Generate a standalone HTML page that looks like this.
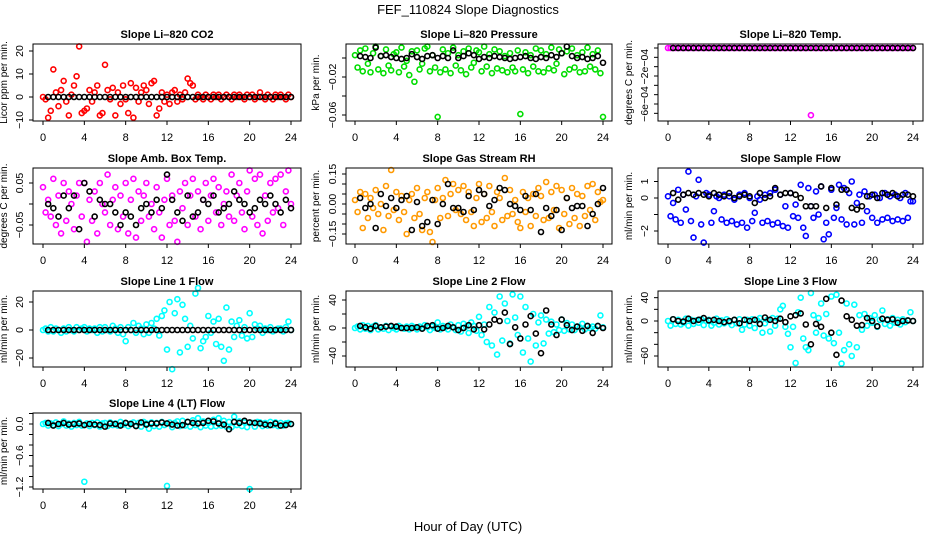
<!DOCTYPE html>
<html><head><meta charset="utf-8"><style>
html,body{margin:0;padding:0;background:#fff}
svg{display:block;font-family:"Liberation Sans",sans-serif}
</style></head><body>
<svg id="chart" width="936" height="540" viewBox="0 0 936 540">
<text x="468" y="14" text-anchor="middle" font-size="13">FEF_110824  Slope Diagnostics</text>
<text x="468" y="531" text-anchor="middle" font-size="13">Hour of Day (UTC)</text>
</svg>
<script>
// ---- data (colored series: every 0.25 h from 0..24; black series: every 0.5 h from 0.5..24) ----
const xTicks = [0,4,8,12,16,20,24];
const co2Red = [0,-1,-9,-6, 12,2,-4,3, 7,-2,-8,1, 5,9,22,-7, -6,-5,3,-2, 2,5,-8,-7, 14,3,-1,4, -8,2,-3,5, -1,-7,6,-9, 4,-2,2,5, 3,-3,6,7, -8,-5,2,-2, 1,-3,2,3, -2,1,-1,2, 8,6,5,-1, 1,0,-1,1, 0,-1,1,0, 1,-1,0,1, 0,-1,1,0, 1,0,-1,1, 0,1,-1,0, 2,0,-1,1, 0,-1,1,0, 1,0,-1,1, 0];
const co2Black = [0,0,0,0,0,0,0,0,0,0,0,0,0,0,0,0,0,0,0,0,0,0,0,0,0,0,0,0,0,0,0,0,0,0,0,0,0,0,0,0,0,0,0,0,0,0,0,0];
const pressGreenMilli = [3,-10,8,-14, 10,-6,-15,5, 12,-12,2,-16, 9,-8,-13,4, 6,-15,11,-9, -3,-18,7,-25, 8,-12,-6,10, 12,-14,3,-10, -62,-15,9,-12, 5,-16,11,-8, 3,-13,7,-17, 10,-10,-5,8, 6,-14,12,-9, 4,-16,9,-11, 7,-13,2,-15, 5,-10,-14,8, -59,-12,6,-16, 3,-9,10,-14, 8,-15,4,-11, 11,-13,-6,9, 5,-17,7,-12, 10,-10,3,-15, 6,-14,11,-9, 4,-12,8,-16, -62];
const pressBlackMilli = [2,1,0,11,2,3,1,0,-1,0,4,1,-1,2,3,0,2,0,8,0,2,5,3,-1,1,0,2,1,0,-1,0,1,2,0,-1,1,0,3,1,5,12,2,0,1,-1,0,2,-5];
const tempMagenta = [0,0,0,0,0,0,0,0,0,0,0,0,0,0,0,0,0,0,0,0,0,0,0,0,0,0,0,0,0,0,0,0,0,0,0,0,0,0,0,0,0,0,0,0,0,0,0,0,0,0,0,0,0,0,0,0,-7.2,0,0,0,0,0,0,0,0,0,0,0,0,0,0,0,0,0,0,0,0,0,0,0,0,0,0,0,0,0,0,0,0,0,0,0,0,0,0,0,0];
const tempBlack = [0,0,0,0,0,0,0,0,0,0,0,0,0,0,0,0,0,0,0,0,0,0,0,0,0,0,0,0,0,0,0,0,0,0,0,0,0,0,0,0,0,0,0,0,0,0,0,0];
const boxMagentaCenti = [4,-2,1,-3, 6,-5,2,-7, 5,-4,3,0, -6,2,5,-3, 5,-9,1,-4, 3,-7,5,0, -2,7,-5,1, 4,-6,2,-3, 5,-7,1,6, -8,3,-4,2, 5,-3,0,-6, 4,-2,-8,1, 6,-5,2,-4, -9,3,-1,5, -5,2,6,-3, 3,-6,1,5, -4,2,6,-2, 4,-5,0,3, -3,7,-4,2, 5,-2,-6,3, 8,-3,6,-5, 7,-7,2,-4, 5,-2,6,-1, 7,-5,3,8, 0];
const boxBlackCenti = [0,-1,-3,2,-1,2,-6,5,3,-3,1,0,0,-2,-5,-2,-3,-5,-1,0,-2,1,-1,7,1,-2,-4,2,-3,-2,1,0,2,-2,-1,0,3,1,0,-2,-1,1,0,2,0,-2,1,-1];
const rhOrangeCenti = [2,-4,6,-12, 5,-7,3,-2, 7,-5,0,-13, 9,-6,17,-3, 6,-8,4,-4, -15,2,5,-7, 8,-5,-13,3, 6,-14,-19,2, 8,-7,3,12, -6,5,10,-3, 7,-5,9,-8, 6,-4,-11,3, 10,-9,5,-7, 9,-4,-11,6, 3,-8,13,-6, 7,-5,2,-9, -12,6,-4,3, -11,5,-6,8, 4,-8,11,-7, 6,-3,9,-12, 7,-5,3,-10, 8,-7,5,-11, 4,-6,9,-3, 10,-8,6,1, 2];
const rhBlackCenti = [3,-2,0,-12,5,-1,3,-2,2,4,-13,1,-11,-9,2,-10,0,10,-2,-2,-4,4,-3,7,5,-1,2,8,7,0,-1,-3,4,-3,5,-14,-2,-6,-3,-13,3,-2,-1,-1,-11,-5,0,8];
const sampleBlue = [0.1,-1.1,-0.3,-1.3, 0.5,-1.5,0.2,-0.7, 1.6,-1.4,-2.4,0.1, 1.1,-1.6,-2.7,0.3, 0.2,-1.5,-0.8,0.1, 0,-1.3,0.2,-1.5, 0.1,-1.4,-0.1,-1.6, 0.2,-1.5,0.3,-1.8, 0,-1.4,-0.9,0.1, -0.1,-1.5,0.2,-1.4, 0.3,-1.6,0.5,-1.5, 0.2,-1.7,-0.5,-1.8, 0.3,-1.1,-0.4,-1.2, 0.8,-1.8,-2.3,0.6, -0.5,-1.2,0.4,-1, 0.7,-2.5,-1.5,-2.2, 0.5,-1.2,-0.6,0.8, -1.3,0.6,-1.6,0.3, 1,-1.6,-0.3,0.2, -1.5,0.4,-0.8,0.1, -1.2,0.2,-1.5,0, -1.3,0.3,-1.2,0.1, -1.4,0.2,-1.3,0, -1.4,0.3,-1.2,-0.2, -0.2];
const sampleBlack = [0.3,-0.1,0.2,0.3,0.2,0.3,0.2,0.1,0.3,0.2,0.1,0.3,0,0.1,0.2,0.1,-0.3,0.3,0,0.1,0.6,0.2,0.3,0.3,0.2,0,-0.5,-0.5,-0.5,0.7,-0.6,0.6,-0.4,0.5,0.5,-0.6,-0.7,-0.5,0.1,0.2,0,0.3,0.2,0.3,0.1,0.2,0.2,0.1];
const line1Cyan = [0,1,-1,2, -1,1,0,-2, 1,-1,2,0, -1,2,0,1, 2,-1,1,0, 1,-2,2,-1, 2,0,-1,3, 1,-2,2,-3, -8,2,0,5, -2,3,1,-3, 4,-2,5,1, 8,-4,10,14, -14,20,-28,12, 22,-16,18,8, -12,3,-6,26, 30,-13,-8,-5, 10,-2,6,-10, 8,-12,-22,16, -14,6,-5,3, 7,-4,2,-6, 12,-5,4,1, 3,-2,1,0, 2,-1,0,1, 1,-1,2,6, 0];
const line1Black = [0,0,0,0,0,0,0,0,0,0,0,0,0,0,0,0,0,0,0,0,0,0,0,0,0,0,0,0,0,0,0,0,0,0,0,0,0,0,0,0,0,0,0,0,0,0,0,0];
const line2Cyan = [0,2,-2,4, -1,3,-3,2, 4,-2,1,-1, 3,-3,2,0, -2,3,1,-1, 2,-2,3,1, -2,2,0,4, 1,-3,2,0, 8,-2,3,1, -2,5,1,-3, 4,-5,6,2, -7,8,3,-4, 16,-10,5,-20, 30,-25,22,-38, 45,-18,35,10, -22,48,15,-10, 45,-35,30,-15, -48,20,-25,8, 18,-22,12,-8, 9,-6,5,-3, 12,-4,7,-2, 5,-3,2,1, 6,-2,3,0, 2,-1,3,18, 1];
const line2Black = [3,1,-1,3,1,2,3,2,0,0,0,1,-1,3,4,-1,0,3,1,-3,0,4,-2,4,-2,5,12,10,22,-23,1,-15,5,17,-8,-36,25,5,-10,12,4,-3,2,-4,3,-7,3,0];
const line3Cyan = [0,-8,3,-5, 2,-6,-3,4, -8,2,-5,1, -3,3,-7,0, 2,-8,-3,4, -6,1,-4,3, -2,-7,2,-4, 3,-15,-6,2, -8,3,-12,1, 5,-20,-4,2, -18,5,-8,4, 20,26,-10,-22, -45,-10,-72,15, 40,-30,-45,-50, 48,10,-20,5, 30,-25,12,-30, 42,-38,45,-20, -73,-50,30,-40, -60,28,-45,10, -15,12,-8,5, -3,10,-10,2, 18,-5,3,-8, 5,-3,2,-6, 3,-2,1,15, 0];
const line3Black = [3,0,-1,4,0,2,5,1,2,0,-2,0,2,-4,2,0,2,-5,6,2,0,4,-2,8,10,13,-6,-40,-5,-10,38,-20,-58,35,8,2,-8,-7,5,0,-9,4,2,3,-3,0,1,0];
const line4Cyan = [0,0.02,-0.03,0.01, -0.02,0.03,-0.04,0, 0.05,-0.03,0.01,-0.05, 0.02,-0.02,0.04,-0.03, -1.1,0.01,-0.04,0.02, -0.02,0.03,-0.05,0.01, 0.02,-0.04,0.03,-0.02, 0.01,-0.03,0.04,-0.01, 0.02,-0.04,0.01,0.03, -0.03,0.02,-0.05,0.04, 0.01,-0.09,0.03,-0.04, 0.02,-0.05,0.04,-0.02, -1.18,0.03,-0.06,0.02, 0.05,-0.04,0.06,-0.03, 0.04,-0.05,0.07,-0.02, 0.11,-0.06,0.05,-0.03, 0.02,-0.05,0.08,-0.04, 0.11,-0.03,0.06,-0.05, 0.04,-0.06,0.14,-0.02, 0.05,-0.04,0.03,-0.06, -1.24,0.02,-0.05,0.04, 0.03,-0.04,0.02,-0.03, 0.04,-0.02,0.03,-0.04, 0.02,-0.03,0.01,0.02, 0];
const line4Black = [0.02,-0.03,0,0.02,-0.01,0,0.01,-0.02,0,-0.01,-0.02,-0.05,0.01,0,-0.03,0.02,0,-0.04,0.03,-0.01,0.01,0.01,0.03,0.01,-0.01,-0.03,-0.02,0.04,0.02,0.01,0.02,0.06,0.05,0.01,-0.01,-0.1,0.04,0.02,0.06,0.03,0.02,0.01,-0.01,-0.02,0.01,-0.03,-0.02,0];

const NS = 'http://www.w3.org/2000/svg';
const svg = document.getElementById('chart');
function mk(tag, attrs, parent) {
  const e = document.createElementNS(NS, tag);
  for (const k in attrs) e.setAttribute(k, attrs[k]);
  (parent || svg).appendChild(e);
  return e;
}
const COLS = [{L:33,R:301,x0:43,x24:291,yt:-10,yl:-26},{L:346,R:612,x0:355,x24:603,yt:-10,yl:-27},{L:658,R:923,x0:668,x24:913,yt:-10,yl:-26}];
const ROWS = [{T:44,B:121},{T:168,B:244},{T:291,B:367},{T:413,B:489}];

function panel(o) {
  const c = COLS[o.col], r = ROWS[o.row];
  const g = mk('g', {});
  
  
  const xs = h => c.x0 + (h / 24) * (c.x24 - c.x0);
  const ys = v => o.py1 + (v - o.v1) * (o.py2 - o.py1) / (o.v2 - o.v1);
  const t = mk('text', {x:(c.L + c.R) / 2, y:r.T - 6, 'text-anchor':'middle', 'font-size':11, 'font-weight':'bold'}, g);
  t.textContent = o.title;
  
  
  o.color.forEach((v, i) => {
    const p = mk('circle', {cx:xs(i * 0.25), cy:ys(v), r:2.5, fill:'none', stroke:o.stroke, 'stroke-width':1.6}, g);
    
    
  });
  o.black.forEach((v, i) => {
    const p = mk('circle', {cx:xs((i + 1) * 0.5), cy:ys(v), r:2.5, fill:'none', stroke:'#000', 'stroke-width':1.6}, g);
    
    
  });
  const b = mk('rect', {x:c.L, y:r.T, width:c.R - c.L, height:r.B - r.T, fill:'none', stroke:'#000', 'stroke-width':1}, g);
  
  
  xTicks.forEach(h => {
    mk('line', {x1:xs(h), x2:xs(h), y1:r.B, y2:r.B + 4, stroke:'#000'}, g);
    const tl = mk('text', {x:xs(h), y:r.B + 20, 'text-anchor':'middle', 'font-size':11}, g);
    tl.textContent = h;
    
    
  });
  o.ticks.forEach((v, i) => {
    const y = ys(v);
    mk('line', {x1:c.L - 4, x2:c.L, y1:y, y2:y, stroke:'#000'}, g);
    if (o.labels[i]) {
      const tl = mk('text', {x:0, y:0, 'text-anchor':'middle', 'font-size':10.5, transform:`translate(${c.L + c.yt},${y}) rotate(-90)`}, g);
      tl.textContent = o.labels[i];
      
      
    }
  });
  const yt = mk('text', {x:0, y:0, 'text-anchor':'middle', 'font-size':10, transform:`translate(${c.L + c.yl},${(r.T + r.B) / 2}) rotate(-90)`}, g);
  yt.textContent = o.ylab;
  
  
}

panel({name:'panel-co2', col:0, row:0, title:'Slope Li\u2013820 CO2', ylab:'Licor ppm per min.', stroke:'#ff0000', color:co2Red, black:co2Black, v1:0, py1:97, v2:10, py2:74, ticks:[-10,0,10,20], labels:['\u221210','0','10','20']});
panel({name:'panel-pressure', col:1, row:0, title:'Slope Li\u2013820 Pressure', ylab:'kPa per min.', stroke:'#00dd00', color:pressGreenMilli, black:pressBlackMilli, v1:0, py1:58, v2:-20, py2:77, ticks:[0,-20,-40,-60], labels:['','\u22120.02','','\u22120.06']});
panel({name:'panel-temp', col:2, row:0, title:'Slope Li\u2013820 Temp.', ylab:'degrees C per min.', stroke:'#ff00ff', color:tempMagenta, black:tempBlack, v1:0, py1:48, v2:-6, py2:104, ticks:[0,-1,-2,-3,-4,-5,-6,-7], labels:['','','\u22122e\u221204','','','','\u22126e\u221204','']});
panel({name:'panel-box-temp', col:0, row:1, title:'Slope Amb. Box Temp.', ylab:'degrees C per min.', stroke:'#ff00ff', color:boxMagentaCenti, black:boxBlackCenti, v1:0, py1:204, v2:5, py2:183, ticks:[-5,0,5], labels:['\u22120.05','','0.05']});
panel({name:'panel-rh', col:1, row:1, title:'Slope Gas Stream RH', ylab:'percent per min.', stroke:'#ff9900', color:rhOrangeCenti, black:rhBlackCenti, v1:0, py1:204, v2:-15, py2:234, ticks:[-15,-10,-5,0,5,10,15], labels:['\u22120.15','','','0.00','','','0.15']});
panel({name:'panel-sample-flow', col:2, row:1, title:'Slope Sample Flow', ylab:'ml/min per min.', stroke:'#0000ff', color:sampleBlue, black:sampleBlack, v1:0, py1:198, v2:-2, py2:231, ticks:[-2,-1,0,1], labels:['\u22122','','0','1']});
panel({name:'panel-line1', col:0, row:2, title:'Slope Line 1 Flow', ylab:'ml/min per min.', stroke:'#00ffff', color:line1Cyan, black:line1Black, v1:0, py1:330, v2:20, py2:302, ticks:[-20,0,20], labels:['\u221220','0','20']});
panel({name:'panel-line2', col:1, row:2, title:'Slope Line 2 Flow', ylab:'ml/min per min.', stroke:'#00ffff', color:line2Cyan, black:line2Black, v1:0, py1:328, v2:40, py2:300, ticks:[-40,-20,0,20,40], labels:['\u221240','','0','','40']});
panel({name:'panel-line3', col:2, row:2, title:'Slope Line 3 Flow', ylab:'ml/min per min.', stroke:'#00ffff', color:line3Cyan, black:line3Black, v1:0, py1:321, v2:-60, py2:356, ticks:[-60,-40,-20,0,20,40], labels:['\u221260','','','0','','40']});
panel({name:'panel-line4', col:0, row:3, title:'Slope Line 4 (LT) Flow', ylab:'ml/min per min.', stroke:'#00ffff', color:line4Cyan, black:line4Black, v1:0, py1:424, v2:-1.2, py2:487, ticks:[0.2,0,-0.2,-0.4,-0.6,-0.8,-1,-1.2], labels:['','0.0','','','\u22120.6','','','\u22121.2']});
</script>
</body></html>
